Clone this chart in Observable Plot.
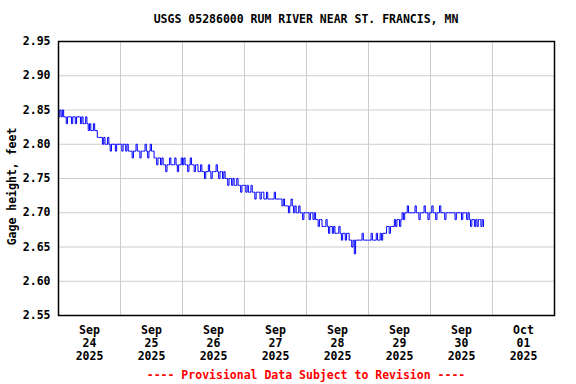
<!DOCTYPE html>
<html>
<head>
<meta charset="utf-8">
<script src="https://cdn.jsdelivr.net/npm/d3@7"></script>
<script src="https://cdn.jsdelivr.net/npm/@observablehq/plot@0.6"></script>
<style>
  html, body { margin: 0; padding: 0; background: #fff; }
  body { width: 576px; height: 384px; overflow: hidden; font-family: "DejaVu Sans Mono", monospace; font-weight: bold; font-size: 11.5px; }
  #title { height: 30px; box-sizing: border-box; padding-top: 13px; line-height: 12px; text-align: center; padding-left: 36px; color: #000; }
  #caption { height: 16px; line-height: 14px; text-align: center; padding-left: 36px; color: #ff0000; }
  svg { display: block; }
</style>
</head>
<body>
<div id="title">USGS 05286000 RUM RIVER NEAR ST. FRANCIS, MN</div>
<div id="chart"></div>
<div id="caption">---- Provisional Data Subject to Revision ----</div>
<script>
// Gage height readings, every 30 minutes, in hundredths of a foot above 2.00 ft
const sep24 = [84,85,84,85,84,84,83,84,84,84,83,84,84,83,84,84,84,83,84,83,83,84,83,82,83,82,82,83,82,82,81,81,81,81,80,81,80,80,81,80,79,80,80,80,79,80,80,80];
const sep25 = [80,79,80,80,79,80,79,79,79,78,79,79,80,79,79,78,79,79,79,80,79,78,79,80,79,79,78,78,77,78,78,77,78,77,77,76,77,77,78,77,77,77,78,77,76,77,77,78];
const sep26 = [77,78,77,77,76,77,78,77,77,76,77,77,76,76,77,76,76,75,76,76,77,76,75,76,76,76,77,76,75,76,76,75,76,75,75,74,75,75,74,75,74,74,75,74,74,73,74,74];
const sep27 = [74,73,74,73,73,74,73,73,72,73,73,73,72,73,73,72,72,73,72,72,72,72,72,73,72,72,72,72,72,71,72,71,71,71,70,71,72,71,70,71,70,70,71,70,70,69,70,70];
const sep28 = [70,70,69,70,70,69,70,69,69,68,69,69,68,68,68,69,68,67,68,68,67,68,67,67,67,68,67,66,67,67,66,67,67,66,66,65,66,64,66,66,66,66,66,67,66,66,66,66];
const sep29 = [66,66,67,66,66,66,67,66,66,67,66,67,67,67,68,68,67,68,68,68,69,68,69,69,68,69,70,69,70,70,71,70,70,70,70,70,71,70,70,69,70,70,70,71,70,70,69,70];
const sep30 = [70,71,70,70,69,70,70,71,70,70,70,69,70,70,70,70,70,70,70,69,70,70,70,70,69,70,70,70,69,70,69,68,69,69,68,69,68,69,69,68,69,68];

const days = [sep24, sep25, sep26, sep27, sep28, sep29, sep30];
const dayStart = Date.UTC(2025, 8, 24);
const dayLabels = ["Sep\n24\n2025","Sep\n25\n2025","Sep\n26\n2025","Sep\n27\n2025","Sep\n28\n2025","Sep\n29\n2025","Sep\n30\n2025","Oct\n01\n2025"];
const yTicks = [2.55, 2.60, 2.65, 2.70, 2.75, 2.80, 2.85, 2.90, 2.95];

const DAY = 86400000, HALF_HOUR = 1800000;
const series = [];
days.forEach((arr, d) => arr.forEach((n, i) => series.push({t: new Date(dayStart + d * DAY + i * HALF_HOUR), v: 2 + n / 100})));
const midnights = d3.range(1, 8).map(d => new Date(dayStart + d * DAY));
const middays = dayLabels.map((s, d) => ({t: new Date(dayStart + d * DAY + DAY / 2), s}));

const chart = Plot.plot({
  width: 576,
  height: 338,
  marginLeft: 58,
  marginRight: 22,
  marginTop: 11,
  marginBottom: 53,
  style: {fontFamily: "DejaVu Sans Mono, monospace", fontSize: "11.5px", fontWeight: "bold", color: "#000", background: "#fff"},
  x: {type: "utc", domain: [new Date(dayStart), new Date(dayStart + 8 * DAY)], axis: null},
  y: {domain: [2.55, 2.95], axis: null},
  marks: [
    Plot.gridY(yTicks, {stroke: "#cccccc", strokeOpacity: 1, strokeWidth: 1}),
    Plot.ruleX(midnights, {stroke: "#cccccc", strokeOpacity: 1, strokeWidth: 1}),
    Plot.axisY({ticks: yTicks, tickFormat: d3.format(".2f"), tickSize: 0, tickPadding: 8, label: null, fontWeight: "bold"}),
    Plot.text(middays, {x: "t", text: "s", frameAnchor: "bottom", lineAnchor: "top", dy: 9, lineHeight: 1.13, fill: "#000"}),
    Plot.text(["Gage height, feet"], {frameAnchor: "left", textAnchor: "middle", dx: -46, dy: 8, rotate: -90, fill: "#000"}),
    Plot.line(series, {x: "t", y: "v", curve: "step-after", stroke: "#0000ff", strokeWidth: 1}),
    Plot.frame({stroke: "#000", strokeWidth: 1.5})
  ]
});
document.getElementById("chart").appendChild(chart);
</script>
</body>
</html>
